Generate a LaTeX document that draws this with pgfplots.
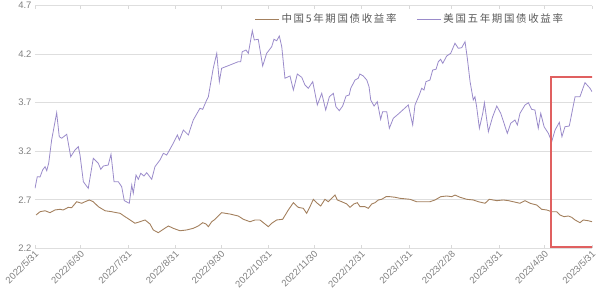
\documentclass[border=0pt]{standalone}
\usepackage{pgfplots}
\pgfplotsset{compat=1.18}
\usepackage{fontspec}
\setmainfont{Liberation Sans}
\newfontfamily\cjk[LetterSpace=16]{Noto Sans CJK SC}
\definecolor{cnline}{HTML}{A3805E}
\definecolor{usline}{HTML}{9A8BCA}
\definecolor{txt}{HTML}{595959}
\definecolor{txtl}{HTML}{808080}
\definecolor{boxred}{HTML}{E06060}
\begin{document}
\begin{tikzpicture}
\path[use as bounding box] (-35bp,-50.7bp) rectangle (565bp,248.3bp);
\begin{axis}[
  scale only axis,
  width=557bp, height=242.6bp,
  xmin=0, xmax=365, ymin=2.2, ymax=4.7,
  axis line style={draw=none},
  ytick style={draw=none},
  xtick style={draw=black!15, line width=0.6pt},
  xtick align=inside, major tick length=3bp,
  ymajorgrids, grid style={black!13, line width=0.6pt},
  ytick={2.2,2.7,3.2,3.7,4.2,4.7},
  /pgf/number format/assume math mode=true,
  xtick={0,30,61,92,122,153,183,214,245,273,304,334,365},
  xticklabels={2022/5/31,2022/6/30,2022/7/31,2022/8/31,2022/9/30,2022/10/31,2022/11/30,2022/12/31,2023/1/31,2023/2/28,2023/3/31,2023/4/30,2023/5/31},
  xticklabel style={rotate=45, anchor=east, yshift=-4bp, xshift=2bp, font=\fontsize{9.5}{10}\selectfont, text=txtl},
  yticklabel style={font=\fontsize{9.5}{10}\selectfont, text=txtl, /pgf/number format/fixed, /pgf/number format/fixed zerofill, /pgf/number format/precision=1},
  legend columns=2,
  legend style={draw=none, fill=none, at={(0.673,0.945)}, anchor=center,
    font=\cjk\fontsize{10.5}{12}\selectfont, text=txt,
    /tikz/every even column/.append style={column sep=18bp}},
]
\addplot[cnline, line width=0.9pt, legend image code/.code={\draw[cnline, line width=0.9pt] (0bp,0bp) -- (24bp,0bp);}] coordinates {
(0.7,2.543)(3.3,2.577)(6.6,2.587)(9.8,2.567)(13.1,2.595)(16.4,2.602)(18.5,2.595)(21.8,2.622)(24.0,2.618)(27.3,2.680)(30.6,2.664)(32.8,2.680)(35.6,2.698)(38.2,2.680)(41.5,2.629)(45.9,2.587)(50.3,2.577)(53.5,2.567)(55.7,2.561)(59.0,2.526)(62.3,2.492)(65.5,2.458)(68.8,2.474)(72.1,2.492)(75.4,2.450)(77.5,2.389)(80.8,2.361)(84.1,2.396)(87.4,2.430)(90.6,2.406)(95.0,2.381)(99.4,2.389)(103.7,2.406)(107.0,2.430)(109.9,2.464)(112.1,2.450)(113.6,2.423)(115.8,2.474)(118.0,2.499)(122.3,2.567)(127.8,2.553)(133.2,2.533)(136.5,2.499)(140.9,2.474)(144.2,2.492)(147.4,2.492)(150.1,2.458)(152.9,2.423)(155.1,2.458)(158.4,2.492)(162.3,2.499)(166.0,2.595)(169.3,2.670)(172.5,2.622)(175.8,2.612)(178.0,2.561)(180.2,2.629)(182.4,2.705)(185.0,2.664)(187.2,2.636)(190.0,2.705)(192.2,2.680)(194.4,2.715)(196.6,2.749)(198.1,2.698)(201.0,2.680)(204.3,2.657)(206.4,2.622)(209.0,2.657)(211.2,2.670)(213.0,2.629)(216.3,2.629)(218.4,2.612)(220.7,2.657)(222.8,2.670)(225.0,2.698)(227.2,2.705)(230.0,2.732)(232.6,2.732)(235.9,2.726)(239.2,2.715)(245.7,2.705)(250.1,2.680)(254.5,2.680)(258.8,2.680)(262.1,2.698)(265.9,2.732)(269.8,2.739)(273.1,2.732)(275.2,2.749)(278.5,2.726)(282.9,2.705)(287.2,2.698)(290.5,2.680)(294.9,2.664)(297.7,2.705)(302.6,2.691)(306.9,2.698)(310.2,2.691)(313.4,2.680)(317.8,2.664)(321.1,2.691)(324.4,2.664)(328.8,2.646)(332.0,2.602)(335.3,2.595)(338.6,2.577)(341.9,2.577)(344.0,2.543)(346.7,2.526)(349.5,2.533)(351.7,2.519)(353.9,2.492)(357.1,2.464)(359.3,2.492)(362.6,2.484)(365,2.474)
};
\addlegendentry{中国5年期国债收益率}
\addplot[usline, line width=0.8pt, legend image code/.code={\draw[usline, line width=0.9pt] (0bp,0bp) -- (24bp,0bp);}] coordinates {
(0,2.818)(1.5,2.938)(3.3,2.935)(5.0,3.007)(6.6,3.041)(7.7,3.000)(9.0,3.079)(10.9,3.316)(14.2,3.597)(15.9,3.350)(17.5,3.334)(20.8,3.375)(23.4,3.144)(26.2,3.213)(28.4,3.247)(29.5,3.161)(31.7,2.886)(34.9,2.818)(38.2,3.127)(41.5,3.076)(43.1,3.014)(44.8,3.048)(48.0,3.058)(49.8,3.169)(51.8,2.886)(54.6,2.886)(56.8,2.835)(58.5,2.691)(61.8,2.664)(63.4,2.852)(64.4,2.767)(66.2,2.955)(67.7,2.911)(69.3,2.973)(71.4,2.945)(73.2,2.979)(76.5,2.911)(78.6,3.041)(81.9,3.110)(84.1,3.179)(86.3,3.161)(90.6,3.282)(93.3,3.368)(94.6,3.316)(97.2,3.419)(100.5,3.368)(103.7,3.522)(108.1,3.643)(109.9,3.632)(112.5,3.728)(113.6,3.762)(114.7,3.865)(116.8,4.055)(119.1,4.209)(120.8,3.917)(122.3,4.055)(127.8,4.089)(133.2,4.123)(134.8,4.123)(135.8,4.226)(138.3,4.243)(139.8,4.209)(142.4,4.442)(143.7,4.347)(146.3,4.354)(149.2,4.079)(151.8,4.209)(155.1,4.277)(156.6,4.354)(158.4,4.339)(160.1,4.388)(161.7,4.277)(163.8,3.952)(167.1,3.976)(169.3,3.831)(171.9,3.996)(174.8,3.962)(176.9,3.883)(179.1,3.849)(182.0,3.917)(185.0,3.677)(187.9,3.797)(190.5,3.625)(192.9,3.762)(195.5,3.797)(197.2,3.659)(199.4,3.618)(201.6,3.666)(203.8,3.769)(205.9,3.780)(206.9,3.849)(209.7,3.934)(211.8,3.952)(212.9,3.996)(215.1,3.976)(217.4,3.934)(218.9,3.865)(220.0,3.728)(222.2,3.666)(224.3,3.711)(226.5,3.529)(227.8,3.608)(230.5,3.608)(232.2,3.437)(234.8,3.540)(238.1,3.584)(244.6,3.677)(247.5,3.471)(249.0,3.677)(251.8,3.780)(253.4,3.849)(254.9,3.831)(256.2,3.917)(258.8,3.934)(260.6,4.037)(262.8,4.045)(264.3,4.123)(265.8,4.148)(267.2,4.106)(269.8,4.182)(272.4,4.209)(275.2,4.313)(277.4,4.261)(279.6,4.267)(281.8,4.329)(283.3,4.158)(285.1,3.917)(287.2,3.728)(288.3,3.762)(289.4,3.659)(291.2,3.437)(293.4,3.591)(294.5,3.700)(297.1,3.402)(299.9,3.556)(302.6,3.666)(305.2,3.591)(309.5,3.385)(311.7,3.488)(314.5,3.522)(316.1,3.471)(317.8,3.591)(321.1,3.677)(323.3,3.700)(325.5,3.632)(327.6,3.625)(329.8,3.437)(331.4,3.591)(333.6,3.453)(336.4,3.385)(338.6,3.299)(340.8,3.419)(343.6,3.498)(345.3,3.350)(347.3,3.453)(350.1,3.460)(353.9,3.762)(357.1,3.762)(360.4,3.907)(363.7,3.849)(365,3.814)
};
\addlegendentry{美国五年期国债收益率}
\draw[boxred, line width=1.1pt] (axis cs:338.1,2.213) rectangle (axis cs:365.7,3.965);
\end{axis}
\end{tikzpicture}
\end{document}
